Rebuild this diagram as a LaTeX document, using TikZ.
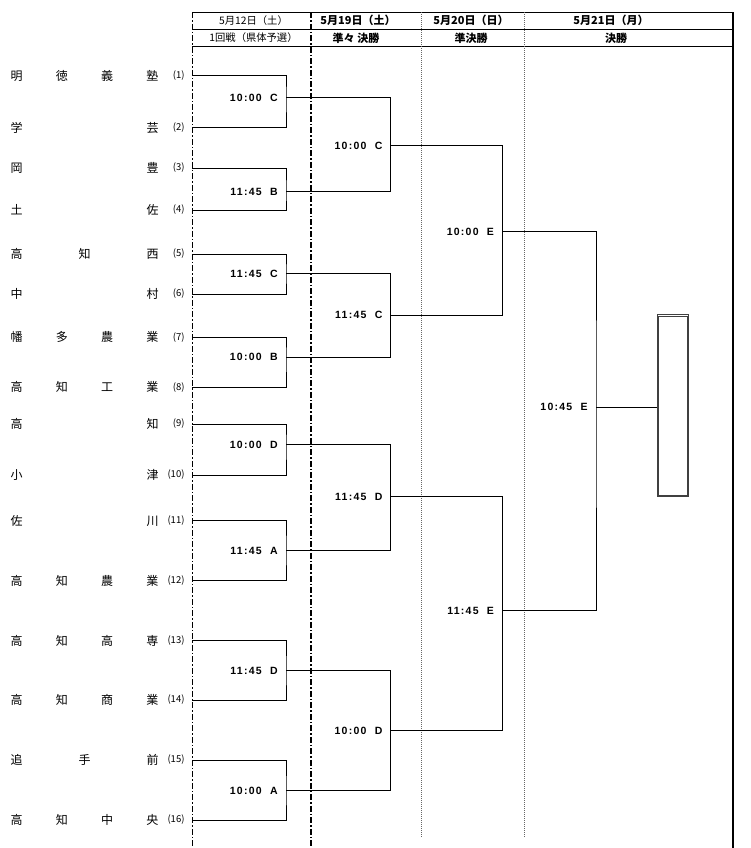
\documentclass[tikz,border=0pt]{standalone}
\usepackage{fontspec}
\newfontfamily\jp{Noto Sans CJK JP}
\newfontfamily\tm[LetterSpace=12]{Liberation Sans}
\usepackage{tikz}
\usetikzlibrary{positioning}
\newcommand{\spread}[1]{\makebox[148pt][s]{#1}}

\begin{document}
\begin{tikzpicture}[
    x=1pt,
    y=-1pt,
    line width=0.6pt,
    team/.style={
		inner sep=0pt,
		font=\jp\fontsize{12}{12}\selectfont
	},
	seed/.style={
		anchor=east,
		inner xsep=7.5pt,
		inner ysep=1pt,
		font=\jp\fontsize{9.5}{10}\selectfont
	},
	kickoff/.style={
		inner sep=0pt,
		font=\tm\bfseries\fontsize{10.5}{11}\selectfont
	},
	hdrtext/.style={
		inner sep=0pt,
		font=\jp\fontsize{10.3}{10}\selectfont
	},
	hdrbold/.style={
		inner sep=0pt,
		font=\jp\bfseries\fontsize{11}{10}\selectfont
	},
	colsep/.style={
		line width=1.5pt,
		dash pattern=on 6pt off 2pt on 1.5pt off 2pt
	},
	coldot/.style={
		line width=0.5pt,
		black!60,
		dash pattern=on 1pt off 1pt
	},
	champion/.style={
		rectangle,
		draw=black!75,
		line width=0.8pt,
		minimum width=31.5pt,
		minimum height=182pt,
		inner sep=0pt
	}
  ]
\useasboundingbox (0,0) rectangle (750,848);

% // header
\draw (192.3,12.3) -- (733.3,12.3);
\draw (192.3,29.3) -- (733.3,29.3);
\draw (192.3,46.7) -- (733.3,46.7);
\draw [colsep] (192.5,12.3) -- (192.5,848);
\draw [colsep] (311,12.3) -- (311,848);
\draw [coldot] (421.7,12.3) -- (421.7,838);
\draw [coldot] (524,12.3) -- (524,838);
\draw [line width=2pt] (733.3,12.3) -- (733.3,848);

\node [hdrtext] (day1) at (253.5,20.8) {5月12日（土）};
\node [hdrbold] (day2) at (358,20.8) {5月19日（土）};
\node [hdrbold] (day3) at (471,20.8) {5月20日（日）};
\node [hdrbold] (day4) at (611,20.8) {5月21日（月）};
\node [hdrtext] (round1) at (253.5,38) {1回戦（県体予選）};
\node [hdrbold] (round2) at (356,38) {準々 決勝};
\node [hdrbold] (round3) at (471,38) {準決勝};
\node [hdrbold] (round4) at (616,38) {決勝};

% // teams
\node [seed] (s1) at (192.3,75.7) {(1)};
\node [team, left=33.5pt of s1.east] (n1) {\spread{明 徳 義 塾}};
\node [seed] (s2) at (192.3,127.7) {(2)};
\node [team, left=33.5pt of s2.east] (n2) {\spread{学 芸}};
\node [seed] (s3) at (192.3,168) {(3)};
\node [team, left=33.5pt of s3.east] (n3) {\spread{岡 豊}};
\node [seed] (s4) at (192.3,210) {(4)};
\node [team, left=33.5pt of s4.east] (n4) {\spread{土 佐}};
\node [seed] (s5) at (192.3,254) {(5)};
\node [team, left=33.5pt of s5.east] (n5) {\spread{高 知 西}};
\node [seed] (s6) at (192.3,294) {(6)};
\node [team, left=33.5pt of s6.east] (n6) {\spread{中 村}};
\node [seed] (s7) at (192.3,337.3) {(7)};
\node [team, left=33.5pt of s7.east] (n7) {\spread{幡 多 農 業}};
\node [seed] (s8) at (192.3,387.3) {(8)};
\node [team, left=33.5pt of s8.east] (n8) {\spread{高 知 工 業}};
\node [seed] (s9) at (192.3,424) {(9)};
\node [team, left=33.5pt of s9.east] (n9) {\spread{高 知}};
\node [seed] (s10) at (192.3,475) {(10)};
\node [team, left=33.5pt of s10.east] (n10) {\spread{小 津}};
\node [seed] (s11) at (192.3,520.7) {(11)};
\node [team, left=33.5pt of s11.east] (n11) {\spread{佐 川}};
\node [seed] (s12) at (192.3,580.7) {(12)};
\node [team, left=33.5pt of s12.east] (n12) {\spread{高 知 農 業}};
\node [seed] (s13) at (192.3,640.7) {(13)};
\node [team, left=33.5pt of s13.east] (n13) {\spread{高 知 高 専}};
\node [seed] (s14) at (192.3,700) {(14)};
\node [team, left=33.5pt of s14.east] (n14) {\spread{高 知 商 業}};
\node [seed] (s15) at (192.3,760) {(15)};
\node [team, left=33.5pt of s15.east] (n15) {\spread{追 手 前}};
\node [seed] (s16) at (192.3,820) {(16)};
\node [team, left=33.5pt of s16.east] (n16) {\spread{高 知 中 央}};

% // first round
\coordinate (a1) at (286,97.7);
\coordinate (a2) at (286,191.7);
\coordinate (a3) at (286,273.7);
\coordinate (a4) at (286,357.3);
\coordinate (a5) at (286,444.5);
\coordinate (a6) at (286,550.5);
\coordinate (a7) at (286,670.7);
\coordinate (a8) at (286,790.7);
\draw (s1.east) -| (a1) |- (s2.east);
\draw (s3.east) -| (a2) |- (s4.east);
\draw (s5.east) -| (a3) |- (s6.east);
\draw (s7.east) -| (a4) |- (s8.east);
\draw (s9.east) -| (a5) |- (s10.east);
\draw (s11.east) -| (a6) |- (s12.east);
\draw (s13.east) -| (a7) |- (s14.east);
\draw (s15.east) -| (a8) |- (s16.east);
\node [kickoff, left=8pt of a1] (ka1) {10:00\ \ C};
\node [kickoff, left=8pt of a2] (ka2) {11:45\ \ B};
\node [kickoff, left=8pt of a3] (ka3) {11:45\ \ C};
\node [kickoff, left=8pt of a4] (ka4) {10:00\ \ B};
\node [kickoff, left=8pt of a5] (ka5) {10:00\ \ D};
\node [kickoff, left=8pt of a6] (ka6) {11:45\ \ A};
\node [kickoff, left=8pt of a7] (ka7) {11:45\ \ D};
\node [kickoff, left=8pt of a8] (ka8) {10:00\ \ A};

% // quarter finals
\coordinate (b1) at (390.7,145.7);
\coordinate (b2) at (390.7,315);
\coordinate (b3) at (390.7,496.7);
\coordinate (b4) at (390.7,730.5);
\draw (a1) -| (b1) |- (a2);
\draw (a3) -| (b2) |- (a4);
\draw (a5) -| (b3) |- (a6);
\draw (a7) -| (b4) |- (a8);
\node [kickoff, left=8pt of b1] (kb1) {10:00\ \ C};
\node [kickoff, left=8pt of b2] (kb2) {11:45\ \ C};
\node [kickoff, left=8pt of b3] (kb3) {11:45\ \ D};
\node [kickoff, left=8pt of b4] (kb4) {10:00\ \ D};

% // semi finals
\coordinate (c1) at (502.3,231.7);
\coordinate (c2) at (502.3,610.7);
\draw (b1) -| (c1) |- (b2);
\draw (b3) -| (c2) |- (b4);
\node [kickoff, left=8pt of c1] (kc1) {10:00\ \ E};
\node [kickoff, left=8pt of c2] (kc2) {11:45\ \ E};

% // final
\coordinate (fin) at (596,407.3);
\draw (c1) -| (fin) |- (c2);
\node [kickoff, left=8pt of fin] (kfin) {10:45\ \ E};
\node [champion] (champ) at (673,405.5) {};
\draw [black!75, line width=0.8pt] ([shift={(2pt,-2pt)}]champ.north west) rectangle ([shift={(-2pt,2pt)}]champ.south east);
\draw (fin) -- (fin -| champ.west);

\end{tikzpicture}
\end{document}
